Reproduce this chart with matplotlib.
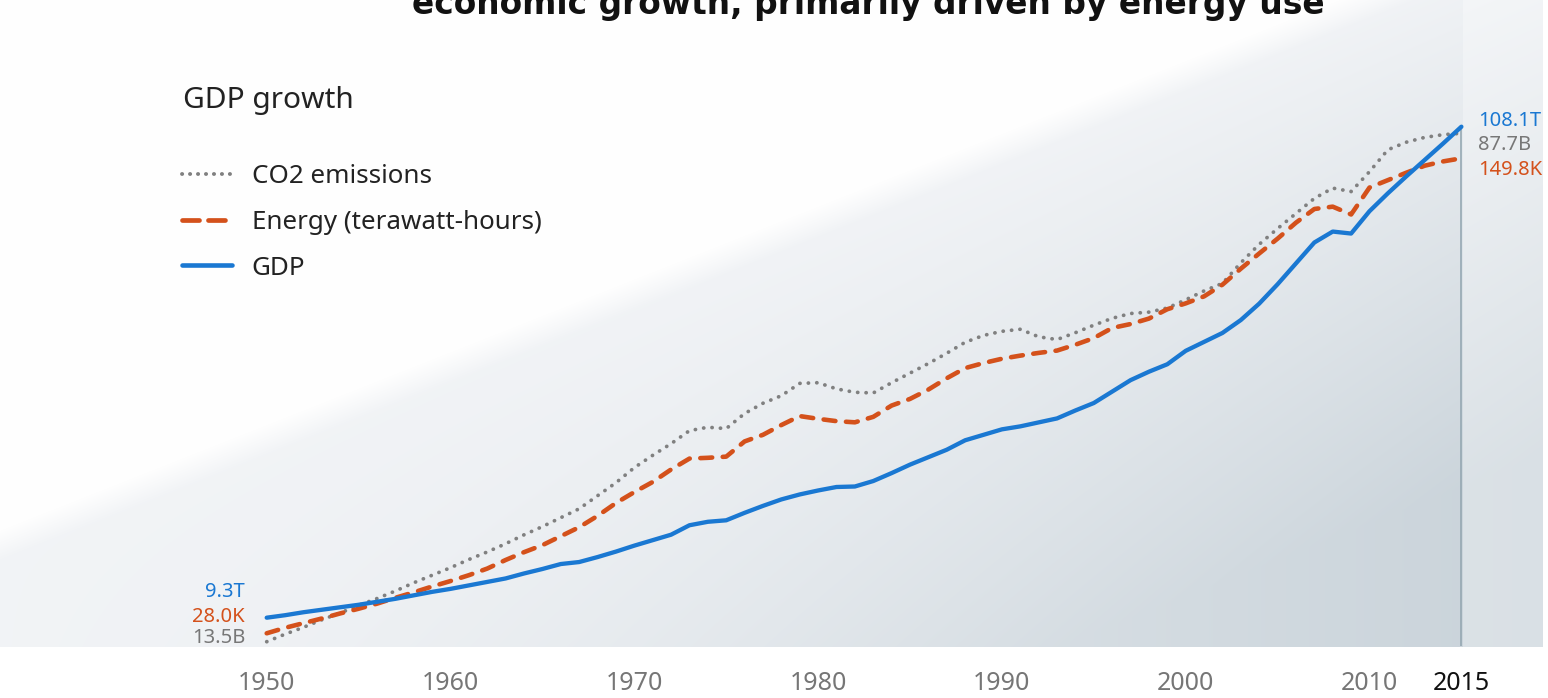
import numpy as np
import matplotlib
matplotlib.use("Agg")
import matplotlib.pyplot as plt
from matplotlib.lines import Line2D

plt.rcParams['font.family'] = ['Noto Sans', 'DejaVu Sans']

# ---------------- data ----------------
years = list(range(1950, 2016))
# GDP, trillions
gdp = [9.3, 9.8, 10.4, 10.9, 11.4, 11.9, 12.5, 13.1, 13.8, 14.5,
       15.1, 15.8, 16.5, 17.2, 18.2, 19.1, 20.1, 20.5, 21.5, 22.6,
       23.8, 24.9, 26.0, 27.9, 28.6, 28.9, 30.4, 31.8, 33.1, 34.1,
       34.9, 35.6, 35.7, 36.8, 38.4, 40.1, 41.6, 43.1, 45.0, 46.1,
       47.2, 47.8, 48.6, 49.4, 51.0, 52.5, 54.8, 57.1, 58.8, 60.3,
       63.0, 64.8, 66.6, 69.2, 72.5, 76.4, 80.6, 84.8, 87.0, 86.6,
       91.1, 94.7, 98.1, 101.4, 104.7, 108.1]
# Energy, thousand terawatt-hours
energy = [28.0, 29.4, 30.6, 31.8, 33.1, 34.3, 35.6, 37.1, 38.5, 40.0,
          41.4, 42.9, 44.6, 46.8, 48.8, 50.6, 52.9, 55.2, 58.1, 61.4,
          64.2, 66.8, 70.0, 72.8, 73.0, 73.3, 77.2, 78.9, 81.4, 83.7,
          83.0, 82.4, 82.1, 83.5, 86.4, 88.1, 90.5, 93.4, 96.0, 97.3,
          98.4, 99.2, 99.9, 100.5, 102.0, 103.7, 106.3, 107.3, 108.7, 111.1,
          112.6, 114.4, 117.4, 121.5, 125.4, 129.2, 133.3, 136.8, 137.4, 135.4,
          142.3, 144.2, 146.1, 147.9, 149.0, 149.8]
# CO2 emissions, billions
co2 = [13.5, 14.6, 15.6, 16.7, 17.7, 18.8, 19.8, 20.9, 22.1, 23.2,
       24.3, 25.5, 26.6, 27.8, 29.1, 30.3, 31.6, 32.9, 34.8, 36.7,
       38.9, 40.7, 42.4, 44.3, 44.8, 44.6, 46.8, 48.3, 49.4, 51.2,
       51.3, 50.4, 49.9, 49.8, 51.3, 52.7, 54.1, 55.6, 57.2, 58.2,
       58.8, 59.1, 58.0, 57.6, 58.6, 59.7, 60.7, 61.4, 61.6, 62.2,
       63.4, 64.7, 65.8, 68.8, 71.5, 73.8, 76.0, 78.2, 79.7, 79.2,
       82.1, 85.3, 86.4, 87.1, 87.5, 87.7]

tick_years = [1950, 1960, 1970, 1980, 1990, 2000, 2010, 2015]
series_labels = ["CO2 emissions", "Energy (terawatt-hours)", "GDP"]
title_text = "economic growth, primarily driven by energy use"
legend_title = "GDP growth"

# ---------------- layout ----------------
W, H = 1548, 698
AX_L, AX_R, AX_T, AX_B = 0, 1542, 60, 646

C_GDP = "#1a78d2"
C_EN = "#d4511b"
C_CO2 = "#808080"

fig = plt.figure(figsize=(W / 100, H / 100), dpi=100)

# background gradient
bg = fig.add_axes([0, 0, 1, 1])
yy, xx = np.mgrid[0:H, 0:W].astype(float)
yline = 545 - 0.396 * xx
below = yy - yline
t = np.clip(below / 520, 0, 1)
dark = 0.12 + 0.85 * (xx / 1540) * t
light = np.array([247, 248, 250], float)
darkc = np.array([200, 210, 217], float)
img = light[None, None, :] * (1 - dark[..., None]) + darkc[None, None, :] * dark[..., None]
w = np.clip(below / 30 + 0.5, 0, 1)[..., None]
img = 254 * (1 - w) + img * w
right = (xx > 1462)[..., None]
img = np.where(right, img * 0.7 + 255 * 0.3, img)
outside = ((yy > AX_B) | (xx > AX_R))[..., None]
img = np.where(outside, 255, img)
bg.imshow(img / 255.0, extent=(0, W, H, 0), aspect="auto", interpolation="bilinear")
bg.set_xlim(0, W)
bg.set_ylim(H, 0)
bg.axis("off")

rect = [AX_L / W, 1 - AX_B / H, (AX_R - AX_L) / W, (AX_B - AX_T) / H]
ax = fig.add_axes(rect)
ax.patch.set_alpha(0)
ax_en = ax.twinx()
ax_gdp = ax.twinx()

px_per_year = (1461.4 - 266.7) / 65
ax.set_xlim(1950 - (266.7 - AX_L) / px_per_year, 2015 + (AX_R - 1461.4) / px_per_year)


def ylim_for(v0, v1, p0, p1):
    f0 = (AX_B - p0) / (AX_B - AX_T)
    f1 = (AX_B - p1) / (AX_B - AX_T)
    span = (v1 - v0) / (f1 - f0)
    lo = v0 - f0 * span
    return lo, lo + span


ax.set_ylim(*ylim_for(co2[0], co2[-1], 641.7, 133.3))
ax_en.set_ylim(*ylim_for(energy[0], energy[-1], 633.3, 158.3))
ax_gdp.set_ylim(*ylim_for(gdp[0], gdp[-1], 617.7, 126.7))

for a in (ax, ax_en, ax_gdp):
    for s in a.spines.values():
        s.set_visible(False)
    a.set_yticks([])
    a.tick_params(axis="y", length=0)

# vertical line at last year
lo_g = ax_gdp.get_ylim()[0]
ax_gdp.vlines(years[-1], lo_g, gdp[-1], color="#8fa3ae", lw=1.1, zorder=1)

l_co2, = ax.plot(years, co2, color=C_CO2, lw=2.7, linestyle=(0, (0.05, 2.2)),
                 dash_capstyle="round", solid_capstyle="round")
l_en, = ax_en.plot(years, energy, color=C_EN, lw=3.3, linestyle=(0, (2.6, 2.3)),
                   dash_capstyle="round")
l_gdp, = ax_gdp.plot(years, gdp, color=C_GDP, lw=3.1, solid_capstyle="round",
                     solid_joinstyle="round")

# x ticks
ax.set_xticks(tick_years)
ax.set_xticklabels([str(y) for y in tick_years])
ax.tick_params(axis="x", length=0, pad=18, labelsize=18, labelcolor="#767676")
ax.get_xticklabels()[-1].set_color("#111111")
ax.get_xticklabels()[-1].set_fontweight("bold")
ax_en.tick_params(axis="x", length=0)
ax_gdp.tick_params(axis="x", length=0)

# start / end labels
lab_fs = 14.5
ax_gdp.annotate(f"{gdp[0]:.1f}T", (years[0], gdp[0]), xytext=(-15.6, 18.7),
                textcoords="offset points", ha="right", va="center",
                color=C_GDP, fontsize=lab_fs)
ax_en.annotate(f"{energy[0]:.1f}K", (years[0], energy[0]), xytext=(-15.6, 12.0),
               textcoords="offset points", ha="right", va="center",
               color=C_EN, fontsize=lab_fs)
ax.annotate(f"{co2[0]:.1f}B", (years[0], co2[0]), xytext=(-15.6, 2.4),
            textcoords="offset points", ha="right", va="center",
            color="#777777", fontsize=lab_fs)
ax_gdp.annotate(f"{gdp[-1]:.1f}T", (years[-1], gdp[-1]), xytext=(12.0, 4.0),
                textcoords="offset points", ha="left", va="center",
                color=C_GDP, fontsize=lab_fs)
ax.annotate(f"{co2[-1]:.1f}B", (years[-1], co2[-1]), xytext=(12.0, -8.4),
            textcoords="offset points", ha="left", va="center",
            color="#777777", fontsize=lab_fs)
ax_en.annotate(f"{energy[-1]:.1f}K", (years[-1], energy[-1]), xytext=(12.0, -8.4),
               textcoords="offset points", ha="left", va="center",
               color=C_EN, fontsize=lab_fs)

# legend
h_co2 = Line2D([], [], color=C_CO2, lw=2.8, linestyle=(0, (0.05, 2.0)), dash_capstyle="round")
h_en = Line2D([], [], color=C_EN, lw=3.4, linestyle=(0, (3.6, 1.9)), dash_capstyle="round")
h_gdp = Line2D([], [], color=C_GDP, lw=3.3, solid_capstyle="round")
leg = ax_gdp.legend([h_co2, h_en, h_gdp], series_labels, loc="upper left",
                    bbox_to_anchor=(181.7 / W, 1 - 164 / H), bbox_transform=fig.transFigure,
                    frameon=False, fontsize=18.7, handlelength=1.92, handletextpad=0.77,
                    labelspacing=0.8, borderpad=0, borderaxespad=0)
for txt in leg.get_texts():
    txt.set_color("#222222")

fig.text(183 / W, 1 - 100.7 / H, legend_title, fontsize=21.5, color="#222222",
         ha="left", va="center")

fig.text(868 / W, 1 - 14 / H, title_text, fontsize=23.7, fontweight="bold",
         ha="center", va="baseline", color="#111111",
         family=["Liberation Sans Narrow", "DejaVu Sans"])

fig.savefig("out.png", dpi=100)
